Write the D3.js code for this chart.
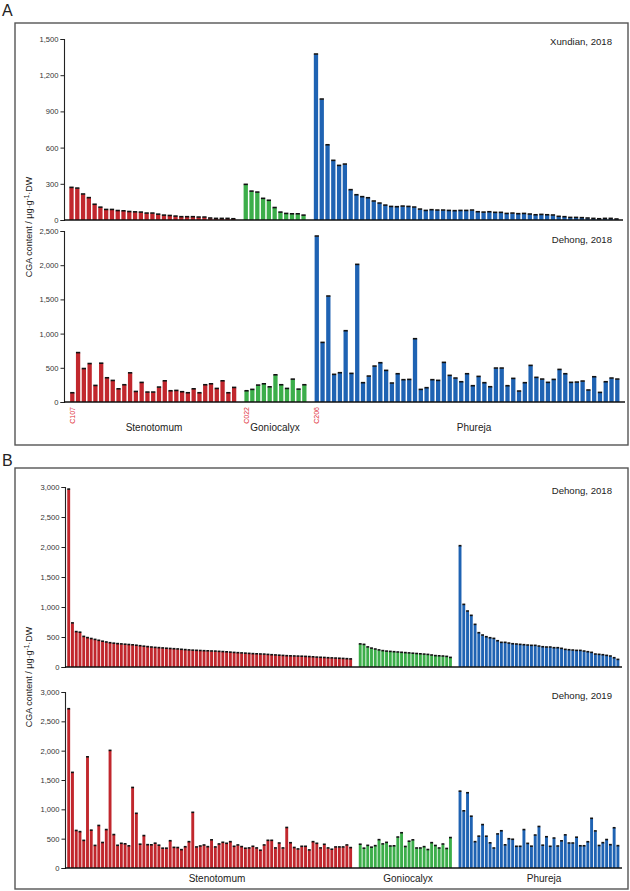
<!DOCTYPE html>
<html><head><meta charset="utf-8">
<script src="https://cdn.jsdelivr.net/npm/d3@7"></script>
<style>body{margin:0;background:#fff} svg{display:block} text{font-family:"Liberation Sans",Arial,sans-serif}</style>
</head><body><svg id="chart" width="630" height="891"></svg>
<script>
const groups = ["Stenotomum", "Goniocalyx", "Phureja"];
const accessionLabels = ["C107", "C022", "C206"];

// Panel A, Xundian 2018
const aXundianSteno = [268,262,213,183,128,104,85,85,76,74,68,65,63,55,55,46,38,35,30,25,25,25,22,22,14,11,11,11,8];
const aXundianGonio = [293,237,229,177,161,101,63,52,49,49,38];
const aXundianPhureja = [1373,1000,621,492,450,461,249,207,191,182,155,138,121,110,108,113,110,105,88,77,83,80,80,77,75,77,77,80,66,63,66,61,61,52,55,50,52,47,41,44,41,39,28,25,19,19,17,14,11,8,11,11,6];
// Panel A, Dehong 2018
const aDehongSteno = [131,718,485,558,238,563,350,311,189,248,422,150,282,141,141,214,306,160,165,146,131,189,131,248,262,194,306,131,209];
const aDehongGonio = [160,180,243,262,218,393,248,194,330,184,248];
const aDehongPhureja = [2422,867,1545,400,424,1038,414,2008,278,375,521,570,458,273,409,322,326,921,180,205,322,312,575,385,346,292,409,234,370,278,219,492,492,234,341,156,278,531,356,331,283,326,472,409,283,287,302,171,365,136,292,346,331];
// Panel B, Dehong 2018
const bDehong18Steno = [2960,730,585,575,505,485,470,455,440,425,412,400,392,385,380,375,370,365,358,350,342,335,328,322,318,313,308,304,300,296,290,285,280,276,273,270,267,265,262,260,256,252,248,243,238,234,230,226,222,218,215,212,210,205,200,196,192,188,184,181,179,177,175,172,169,165,160,157,154,150,147,144,141,138,134,130];
const bDehong18Gonio = [380,372,330,310,295,280,268,260,255,250,245,240,235,230,225,220,215,210,205,195,185,182,178,172,155];
const bDehong18Phureja = [2017,1039,928,856,706,567,528,500,483,472,433,406,406,394,383,378,372,367,361,356,356,344,333,328,328,317,317,306,289,283,278,272,272,261,250,239,211,206,200,189,178,150,122];
// Panel B, Dehong 2019
const bDehong19Steno = [2710,1625,635,615,466,1890,640,380,720,430,650,2000,565,382,416,407,373,1368,927,401,548,393,390,418,384,333,333,460,347,344,308,358,444,944,354,370,387,359,475,354,405,433,416,444,365,388,360,332,337,365,337,298,388,467,467,337,421,337,686,426,345,320,365,365,303,444,416,337,399,337,315,354,354,354,388,343];
const bDehong19Gonio = [400,333,381,350,376,478,406,432,370,373,523,596,362,452,475,336,336,359,310,427,379,336,404,328,514];
const bDehong19Phureja = [1305,970,1278,878,444,538,735,537,424,336,576,630,390,494,485,365,365,650,415,367,557,703,384,528,365,506,370,458,560,421,421,520,374,374,443,842,627,379,427,480,393,681,376];

const ticksA1 = [0,300,600,900,1200,1500];
const ticksA2 = [0,500,1000,1500,2000,2500];
const ticksB = [0,500,1000,1500,2000,2500,3000];

const colors = {Stenotomum:"#c1272d", Goniocalyx:"#3cae4a", Phureja:"#1f63b3"};
const svg = d3.select("#chart");
const fmt = d3.format(",");

function flatten(series, gap){
  const out = []; let slot = 0;
  series.forEach((vals, g) => {
    vals.forEach((v, i) => { out.push({group: groups[g], idx: i, value: v, slot: slot + i}); });
    slot += vals.length + gap;
  });
  return out;
}

function drawPanel(p){
  const data = flatten(p.series, p.gap);
  const maxSlot = d3.max(data, d => d.slot);
  const x = d3.scaleLinear().domain([0, maxSlot]).range(p.xRange);
  const y = d3.scaleLinear().domain([0, d3.max(p.ticks)]).range([p.y0, p.yTop]);
  const g = svg.append("g");
  g.selectAll("rect.bar").data(data).join("rect")
    .attr("x", d => x(d.slot) - p.bw/2).attr("width", p.bw)
    .attr("y", d => y(d.value)).attr("height", d => p.y0 - y(d.value))
    .attr("fill", d => colors[d.group]);
  g.selectAll("line.cap").data(data).join("line")
    .attr("x1", d => x(d.slot) - p.bw/2).attr("x2", d => x(d.slot) + p.bw/2)
    .attr("y1", d => y(d.value) - 0.3).attr("y2", d => y(d.value) - 0.3)
    .attr("stroke", "#111").attr("stroke-width", 1.6);
  const ax = g.append("g").attr("transform", `translate(${p.axisX},0)`)
    .call(d3.axisLeft(y).tickValues(p.ticks).tickFormat(fmt).tickSize(3.5).tickPadding(2));
  ax.select(".domain").attr("stroke", "#222").attr("stroke-width", 1.1);
  ax.selectAll(".tick line").attr("stroke", "#222");
  ax.selectAll(".tick text").attr("font-size", "7.6px").attr("fill", "#333").attr("font-family", '"Liberation Sans",Arial,sans-serif');
  g.append("line").attr("x1", p.axisX).attr("x2", p.baseEnd).attr("y1", p.y0).attr("y2", p.y0)
    .attr("stroke", "#111").attr("stroke-width", 1.3);
  g.append("text").attr("x", 612).attr("y", p.subY).attr("text-anchor", "end")
    .attr("font-size", "9.6px").attr("fill", "#222").text(p.sub);
  return {x, data};
}

// Frames and panel letters
svg.append("rect").attr("x", 15).attr("y", 23).attr("width", 613).attr("height", 422).attr("fill","none").attr("stroke","#555").attr("stroke-width",1.4);
svg.append("rect").attr("x", 15).attr("y", 468).attr("width", 613).attr("height", 421).attr("fill","none").attr("stroke","#555").attr("stroke-width",1.4);
svg.append("text").attr("x", 2).attr("y", 16).attr("font-size","16px").attr("fill","#222").text("A");
svg.append("text").attr("x", 2).attr("y", 466).attr("font-size","16px").attr("fill","#222").text("B");

drawPanel({series:[aXundianSteno,aXundianGonio,aXundianPhureja], gap:1.15, xRange:[71.5,616.5], bw:4.3,
  ticks:ticksA1, y0:220, yTop:39, axisX:64, baseEnd:623, sub:"Xundian, 2018", subY:44.5});
const a2 = drawPanel({series:[aDehongSteno,aDehongGonio,aDehongPhureja], gap:1.15, xRange:[72.3,617.3], bw:4.3,
  ticks:ticksA2, y0:402, yTop:231, axisX:64, baseEnd:625, sub:"Dehong, 2018", subY:242.5});
drawPanel({series:[bDehong18Steno,bDehong18Gonio,bDehong18Phureja], gap:1.55, xRange:[68.7,617.9], bw:2.9,
  ticks:ticksB, y0:667, yTop:487, axisX:65, baseEnd:622, sub:"Dehong, 2018", subY:494});
drawPanel({series:[bDehong19Steno,bDehong19Gonio,bDehong19Phureja], gap:1.55, xRange:[68.7,617.9], bw:2.9,
  ticks:ticksB, y0:868, yTop:692, axisX:65, baseEnd:622, sub:"Dehong, 2019", subY:699});

// accession labels on first bar of each group (panel A bottom)
a2.data.filter(d => d.idx === 0).forEach((d, k) => {
  svg.append("text").attr("transform", `translate(${a2.x(d.slot)+2.4},407) rotate(-90)`)
    .attr("text-anchor","end").attr("font-size","7px").attr("fill","#e0303a").text(accessionLabels[k]);
});

// group labels
const groupLabelA = [154, 275, 474];
const groupLabelB = [217, 408, 544];
groups.forEach((gname, k) => {
  svg.append("text").attr("x", groupLabelA[k]).attr("y", 431).attr("text-anchor","middle").attr("font-size","10px").attr("fill","#222").text(gname);
  svg.append("text").attr("x", groupLabelB[k]).attr("y", 882).attr("text-anchor","middle").attr("font-size","10px").attr("fill","#222").text(gname);
});

// y-axis titles
function yTitle(cy){
  const t = svg.append("text").attr("transform", `translate(32,${cy}) rotate(-90)`).attr("text-anchor","middle")
    .attr("font-size","9px").attr("fill","#222");
  t.append("tspan").text("CGA content / μg·g");
  t.append("tspan").attr("dy", -3).attr("font-size","6.5px").text("-1");
  t.append("tspan").attr("dy", 3).text("·DW");
}
yTitle(227);
yTitle(677);
</script></body></html>
